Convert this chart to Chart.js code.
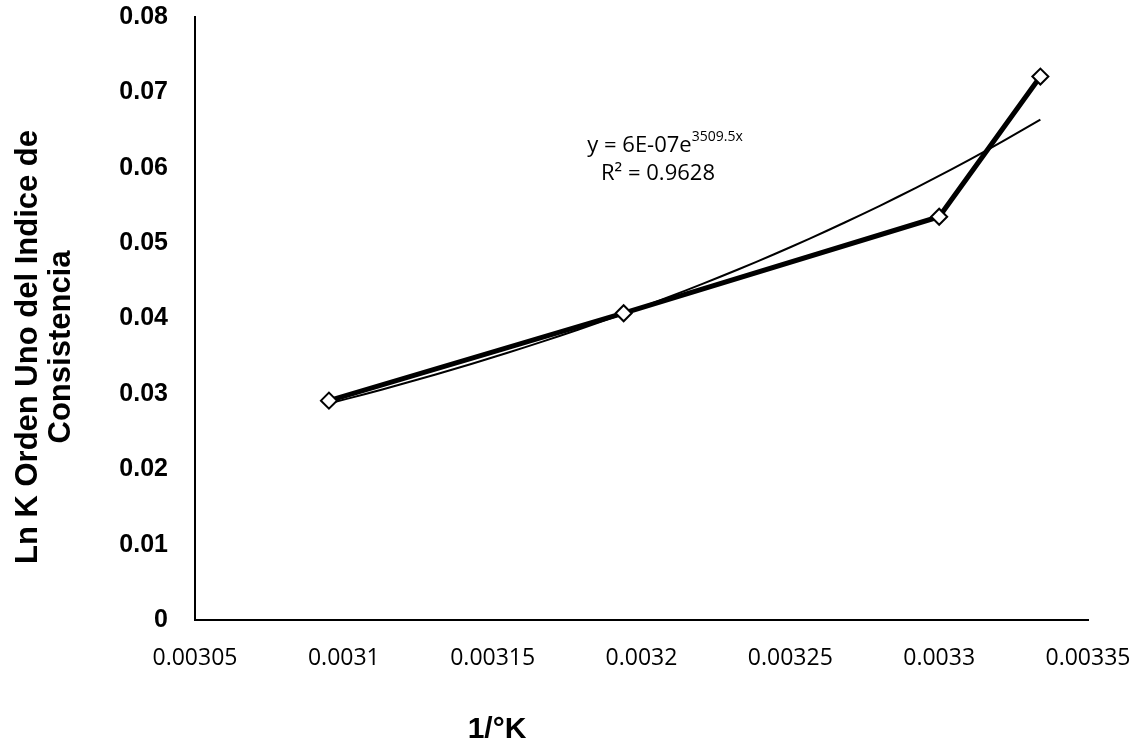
<!DOCTYPE html>
<html lang="es">
<head>
  <meta charset="UTF-8" />
  <title>Ln K vs 1/°K</title>
  <script src="https://cdn.jsdelivr.net/npm/chart.js"></script>
  <style>
    body {
      margin: 0;
      background-color: #fff;
    }
    canvas {
      display: block;
    }
  </style>
</head>
<body>

<canvas id="lnkChart" width="1147" height="742"></canvas>

<script>
  // values
  const invT = [0.003095, 0.003194, 0.003300, 0.003334];
  const lnK = [0.0291, 0.0407, 0.0535, 0.0721];

  const xTickValues = [0.00305, 0.0031, 0.00315, 0.0032, 0.00325, 0.0033, 0.00335];
  const xTickLabels = ['0.00305', '0.0031', '0.00315', '0.0032', '0.00325', '0.0033', '0.00335'];
  const yTickValues = [0, 0.01, 0.02, 0.03, 0.04, 0.05, 0.06, 0.07, 0.08];
  const yTickLabels = ['0', '0.01', '0.02', '0.03', '0.04', '0.05', '0.06', '0.07', '0.08'];

  const yTitleLines = ['Ln K Orden Uno del Indice de', 'Consistencia'];
  const xTitle = '1/°K';
  const eqMain = 'y = 6E-07e';
  const eqSup = '3509.5x';
  const r2Text = 'R² = 0.9628';

  // exponential trendline (least squares on ln y), like the spreadsheet does
  function expFit(xs, ys) {
    const n = xs.length;
    const ly = ys.map(v => Math.log(v));
    const mx = xs.reduce((a, b) => a + b, 0) / n;
    const my = ly.reduce((a, b) => a + b, 0) / n;
    let sxy = 0, sxx = 0;
    for (let i = 0; i < n; i++) {
      sxy += (xs[i] - mx) * (ly[i] - my);
      sxx += (xs[i] - mx) * (xs[i] - mx);
    }
    const b = sxy / sxx;
    const a = Math.exp(my - b * mx);
    return { a, b };
  }

  const fit = expFit(invT, lnK);
  let trend = [];
  const steps = 40;
  for (let i = 0; i <= steps; i++) {
    const x = invT[0] + (invT[invT.length - 1] - invT[0]) * i / steps;
    trend.push({ x: x, y: fit.a * Math.exp(fit.b * x) });
  }

  const points = invT.map((x, i) => ({ x: x, y: lnK[i] }));

  const textPlugin = {
    id: 'textPlugin',
    afterDraw(chart) {
      const ctx = chart.ctx;
      ctx.save();
      ctx.fillStyle = '#000';

      // y title, two rotated lines
      ctx.font = 'bold 31px "Liberation Sans", Arial, sans-serif';
      ctx.textAlign = 'center';
      ctx.textBaseline = 'alphabetic';
      const baseX = [37, 70];
      yTitleLines.forEach((line, i) => {
        ctx.save();
        ctx.translate(baseX[i], 347);
        ctx.rotate(-Math.PI / 2);
        ctx.fillText(line, 0, 0);
        ctx.restore();
      });

      // x title
      ctx.font = 'bold 30px "Liberation Sans", Arial, sans-serif';
      ctx.fillText(xTitle, 497, 738);

      // trendline equation
      ctx.font = '22px "Open Sans", sans-serif';
      const mainW = ctx.measureText(eqMain).width;
      ctx.font = '14px "Open Sans", sans-serif';
      const supW = ctx.measureText(eqSup).width;
      const startX = 665 - (mainW + supW) / 2;
      ctx.textAlign = 'left';
      ctx.font = '22px "Open Sans", sans-serif';
      ctx.fillText(eqMain, startX, 152);
      ctx.font = '14px "Open Sans", sans-serif';
      ctx.fillText(eqSup, startX + mainW, 141);
      ctx.textAlign = 'center';
      ctx.font = '22px "Open Sans", sans-serif';
      ctx.fillText(r2Text, 658, 180);

      ctx.restore();
    }
  };

  const ctx = document.getElementById('lnkChart').getContext('2d');
  const chart = new Chart(ctx, {
    type: 'scatter',
    data: {
      datasets: [
        {
          label: 'Ln K',
          data: points,
          showLine: true,
          borderColor: '#000',
          borderWidth: 5,
          pointStyle: 'rectRot',
          pointRadius: 8,
          pointBackgroundColor: '#fff',
          pointBorderColor: '#000',
          pointBorderWidth: 2,
          order: 1
        },
        {
          label: 'Exponencial',
          data: trend,
          showLine: true,
          borderColor: '#000',
          borderWidth: 2,
          pointRadius: 0,
          order: 2
        }
      ]
    },
    options: {
      responsive: false,
      devicePixelRatio: 1,
      animation: false,
      layout: {
        padding: { left: 0, right: 59, top: 17, bottom: 0 }
      },
      plugins: {
        legend: { display: false },
        tooltip: { enabled: false }
      },
      scales: {
        x: {
          type: 'linear',
          min: 0.00305,
          max: 0.00335,
          grid: { display: false },
          border: { display: true, color: '#000', width: 2 },
          afterFit(scale) {
            scale.height = 122;
            scale.paddingLeft = 0;
            scale.paddingRight = 0;
          },
          afterBuildTicks(scale) { scale.ticks = xTickValues.map(v => ({ value: v })); },
          ticks: {
            color: '#000',
            padding: 17,
            maxRotation: 0,
            autoSkip: false,
            font: { family: '"Open Sans", sans-serif', size: 23 },
            callback: (val, i) => xTickLabels[i]
          }
        },
        y: {
          min: 0,
          max: 0.08,
          grid: { display: false },
          border: { display: true, color: '#000', width: 2 },
          afterFit(scale) {
            scale.width = 195;
            scale.paddingTop = 0;
            scale.paddingBottom = 0;
          },
          afterBuildTicks(scale) { scale.ticks = yTickValues.map(v => ({ value: v })); },
          ticks: {
            color: '#000',
            padding: 19,
            autoSkip: false,
            font: { family: '"Liberation Sans", Arial, sans-serif', size: 25, weight: 'bold' },
            callback: (val, i) => yTickLabels[i]
          }
        }
      }
    },
    plugins: [textPlugin]
  });
</script>

</body>
</html>
